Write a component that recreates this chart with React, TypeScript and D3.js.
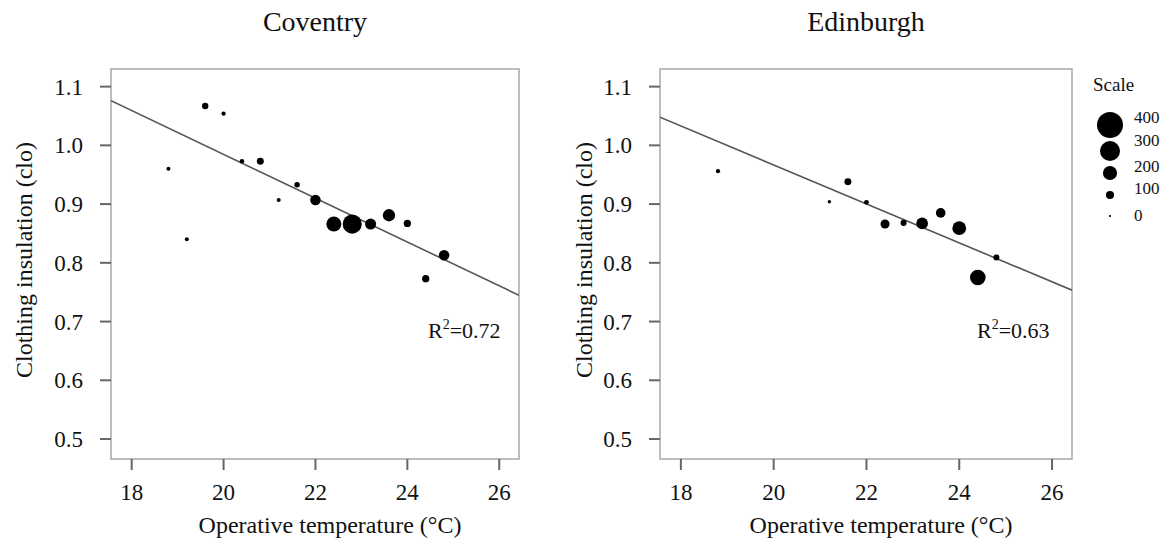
import React from "react";
import * as d3 from "d3";

const cityNames = ["Coventry", "Edinburgh"];
const rSquared = ["0.72", "0.63"];
// regression: clo = intercept + slope * T
const intercepts = [1.7306, 1.6298];
const slopes = [-0.0373, -0.03316];

const coventryTemp = [19.6, 20.0, 18.8, 19.2, 20.4, 20.8, 21.6, 21.2, 22.0, 22.4, 22.8, 23.2, 23.6, 24.0, 24.8, 24.4];
const coventryClo = [1.067, 1.054, 0.96, 0.84, 0.973, 0.973, 0.933, 0.907, 0.907, 0.866, 0.866, 0.866, 0.881, 0.867, 0.813, 0.773];
const coventryN = [70, 35, 30, 30, 40, 80, 55, 30, 140, 215, 285, 150, 170, 85, 140, 85];

const edinburghTemp = [18.8, 21.2, 21.6, 22.0, 22.4, 22.8, 23.2, 23.6, 24.0, 24.4, 24.8];
const edinburghClo = [0.956, 0.904, 0.938, 0.903, 0.866, 0.868, 0.867, 0.885, 0.859, 0.775, 0.809];
const edinburghN = [35, 20, 80, 45, 115, 65, 160, 125, 195, 225, 65];

const xTicks = [18, 20, 22, 24, 26];
const yTicks = [0.5, 0.6, 0.7, 0.8, 0.9, 1.0, 1.1];
const legendValues = [400, 300, 200, 100, 0];

const FONT = "'Liberation Serif', 'Times New Roman', serif";

const panels = [
  { name: cityNames[0], temp: coventryTemp, clo: coventryClo, n: coventryN, r2: rSquared[0], a: intercepts[0], b: slopes[0], x0: 111, x1: 519, titleDx: 87 },
  { name: cityNames[1], temp: edinburghTemp, clo: edinburghClo, n: edinburghN, r2: rSquared[1], a: intercepts[1], b: slopes[1], x0: 660, x1: 1072, titleDx: 76 },
];

const yTop = 69;
const yBottom = 459;
const y = d3.scaleLinear().domain([0.466, 1.130]).range([yBottom, yTop]);
const rScale = d3.scaleLinear().domain([0, 400]).range([1.1, 13]);

function Panel({ p }: { p: (typeof panels)[number] }) {
  const x = d3.scaleLinear().domain([17.55, 26.43]).range([p.x0, p.x1]);
  const [dx0, dx1] = x.domain();
  const line = d3.line<number>().x((t) => x(t)).y((t) => y(p.a + p.b * t));
  const cx = (p.x0 + p.x1) / 2;
  const pts = p.temp.map((t, i) => ({ t, c: p.clo[i], n: p.n[i] })).sort((a, b) => b.n - a.n);
  return (
    <g>
      <text x={cx} y={31} textAnchor="middle" fontSize={28} fontFamily={FONT} fill="#111">{p.name}</text>
      <rect x={p.x0} y={yTop} width={p.x1 - p.x0} height={yBottom - yTop} fill="none" stroke="#a8a8a8" strokeWidth={1.5} />
      {yTicks.map((v) => (
        <g key={"y" + v}>
          <line x1={p.x0 - 11} x2={p.x0} y1={y(v)} y2={y(v)} stroke="#666" strokeWidth={2} />
          <text x={p.x0 - 28} y={y(v) + 8} textAnchor="end" fontSize={23} fontFamily={FONT} fill="#111">{v.toFixed(1)}</text>
        </g>
      ))}
      {xTicks.map((v) => (
        <g key={"x" + v}>
          <line x1={x(v)} x2={x(v)} y1={yBottom} y2={yBottom + 11} stroke="#666" strokeWidth={2} />
          <text x={x(v)} y={500} textAnchor="middle" fontSize={23} fontFamily={FONT} fill="#111">{v}</text>
        </g>
      ))}
      <text x={cx + 15} y={533} textAnchor="middle" fontSize={24} fontFamily={FONT} fill="#111">Operative temperature (°C)</text>
      <text transform={`translate(${p.x0 - p.titleDx + 8},${(yTop + yBottom) / 2 - 4}) rotate(-90)`} textAnchor="middle" fontSize={24} fontFamily={FONT} fill="#111">Clothing insulation (clo)</text>
      <clipPath id={"clip" + p.x0}>
        <rect x={p.x0} y={yTop} width={p.x1 - p.x0} height={yBottom - yTop} />
      </clipPath>
      <path d={line([dx0, dx1]) || ""} stroke="#555" strokeWidth={1.6} fill="none" clipPath={`url(#clip${p.x0})`} />
      {pts.map((d, i) => (
        <circle key={i} cx={x(d.t)} cy={y(d.c)} r={rScale(d.n)} fill="#000" />
      ))}
      <text x={p.x0 + 317} y={338} fontSize={22} fontFamily={FONT} fill="#111">
        R<tspan dy={-9} fontSize={14}>2</tspan><tspan dy={9}>={p.r2}</tspan>
      </text>
    </g>
  );
}

export default function App() {
  const legendCy = [125, 151, 173, 195, 216];
  const legendLy = [123, 146, 172, 194, 221];
  return (
    <svg width={1172} height={544} style={{ display: "block", position: "absolute", left: 0, top: 0, background: "#fff" }}>
      {panels.map((p) => (
        <Panel key={p.name} p={p} />
      ))}
      <text x={1093} y={91} fontSize={19} fontFamily={FONT} fill="#111">Scale</text>
      {legendValues.map((v, i) => (
        <g key={v}>
          <circle cx={1110} cy={legendCy[i]} r={rScale(v)} fill="#000" />
          <text x={1134} y={legendLy[i]} fontSize={17} fontFamily={FONT} fill="#111">{v}</text>
        </g>
      ))}
    </svg>
  );
}
